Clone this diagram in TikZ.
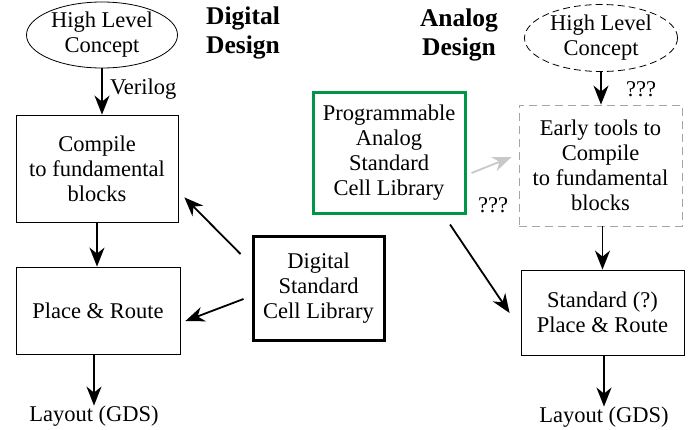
\documentclass[tikz,border=0pt]{standalone}
\usepackage{fontspec}
\setmainfont{Liberation Serif}
\usetikzlibrary{arrows.meta,shapes.geometric,calc}
\definecolor{libgreen}{RGB}{0,150,70}
\definecolor{dgray}{RGB}{165,165,165}
\definecolor{agray}{RGB}{200,200,200}
\tikzset{
  txt/.style={font=\fontsize{22.5}{25}\selectfont, align=center, inner sep=0pt},
  ttl/.style={font=\fontsize{25.5}{29}\selectfont\bfseries, align=center, inner sep=0pt},
  box/.style={txt, draw, rectangle, line width=0.8pt},
  oval/.style={txt, draw, ellipse, line width=0.8pt},
  arr/.style={line width=1.8pt, -{Stealth[length=19pt,width=15pt,inset=6pt]}},
}
\begin{document}
\begin{tikzpicture}[x=1pt,y=-1pt]
\useasboundingbox (0,0) rectangle (691,429);
% Digital side
\node[oval, minimum width=151, minimum height=66] (hlc1) at (102,35) {High Level\\Concept};
\node[box, minimum width=162, minimum height=107] (comp) at (97,168.5) {Compile\\to fundamental\\blocks};
\node[box, minimum width=164, minimum height=87] (pr) at (98,310.5) {Place \& Route};
\node[txt] (lay1) at (94,416) {Layout (GDS)};
\node[box, line width=3pt, minimum width=131, minimum height=104] (dscl) at (318.5,288) {Digital\\Standard\\Cell Library};
\node[ttl] (ddes) at (243,33) {Digital\\Design};
\node[txt, anchor=west] (veri) at (110,89) {Verilog};
% Analog side
\node[ttl] (ades) at (459,35) {Analog\\Design};
\node[oval, dashed, dash pattern=on 7pt off 4pt, minimum width=153, minimum height=67] (hlc2) at (601,38) {High Level\\Concept};
\node[box, draw=dgray, dashed, dash pattern=on 8pt off 5pt, minimum width=163, minimum height=121] (early) at (600.5,165.5) {Early tools to\\Compile\\to fundamental\\blocks};
\node[box, draw=libgreen, line width=3pt, minimum width=152, minimum height=121] (pasc) at (389,152.5) {Programmable\\Analog\\Standard\\Cell Library};
\node[box, minimum width=163, minimum height=85] (std) at (602.5,312.5) {Standard (?)\\Place \& Route};
\node[txt] (lay2) at (604,417) {Layout (GDS)};
\node[txt] (q1) at (641,89) {???};
\node[txt] (q2) at (493,205) {???};
% Arrows
\draw[arr] (hlc1.south) -- (hlc1.south |- comp.north);
\draw[arr] (comp.south) -- (comp.south |- pr.north);
\draw[arr] (pr.south -| lay1) -- (lay1.north);
\draw[arr] ($(dscl.west)+(-11,-34)$) -- ($(comp.south east)+(6,-25)$);
\draw[arr] ($(dscl.west)+(-8,11)$) -- ($(pr.east)+(5,10.5)$);
\draw[arr] (hlc2.south) -- (hlc2.south |- early.north);
\draw[arr] (early.south -| std) -- (std.north);
\draw[arr] (std.south -| lay2) -- (lay2.north);
\draw[arr, agray] ($(pasc.east)+(5,20.5)$) -- ($(early.west)+(-7,-8.5)$);
\draw[arr] ($(pasc.south)+(61,10)$) -- ($(std.west)+(-11,0.5)$);
\end{tikzpicture}
\end{document}
